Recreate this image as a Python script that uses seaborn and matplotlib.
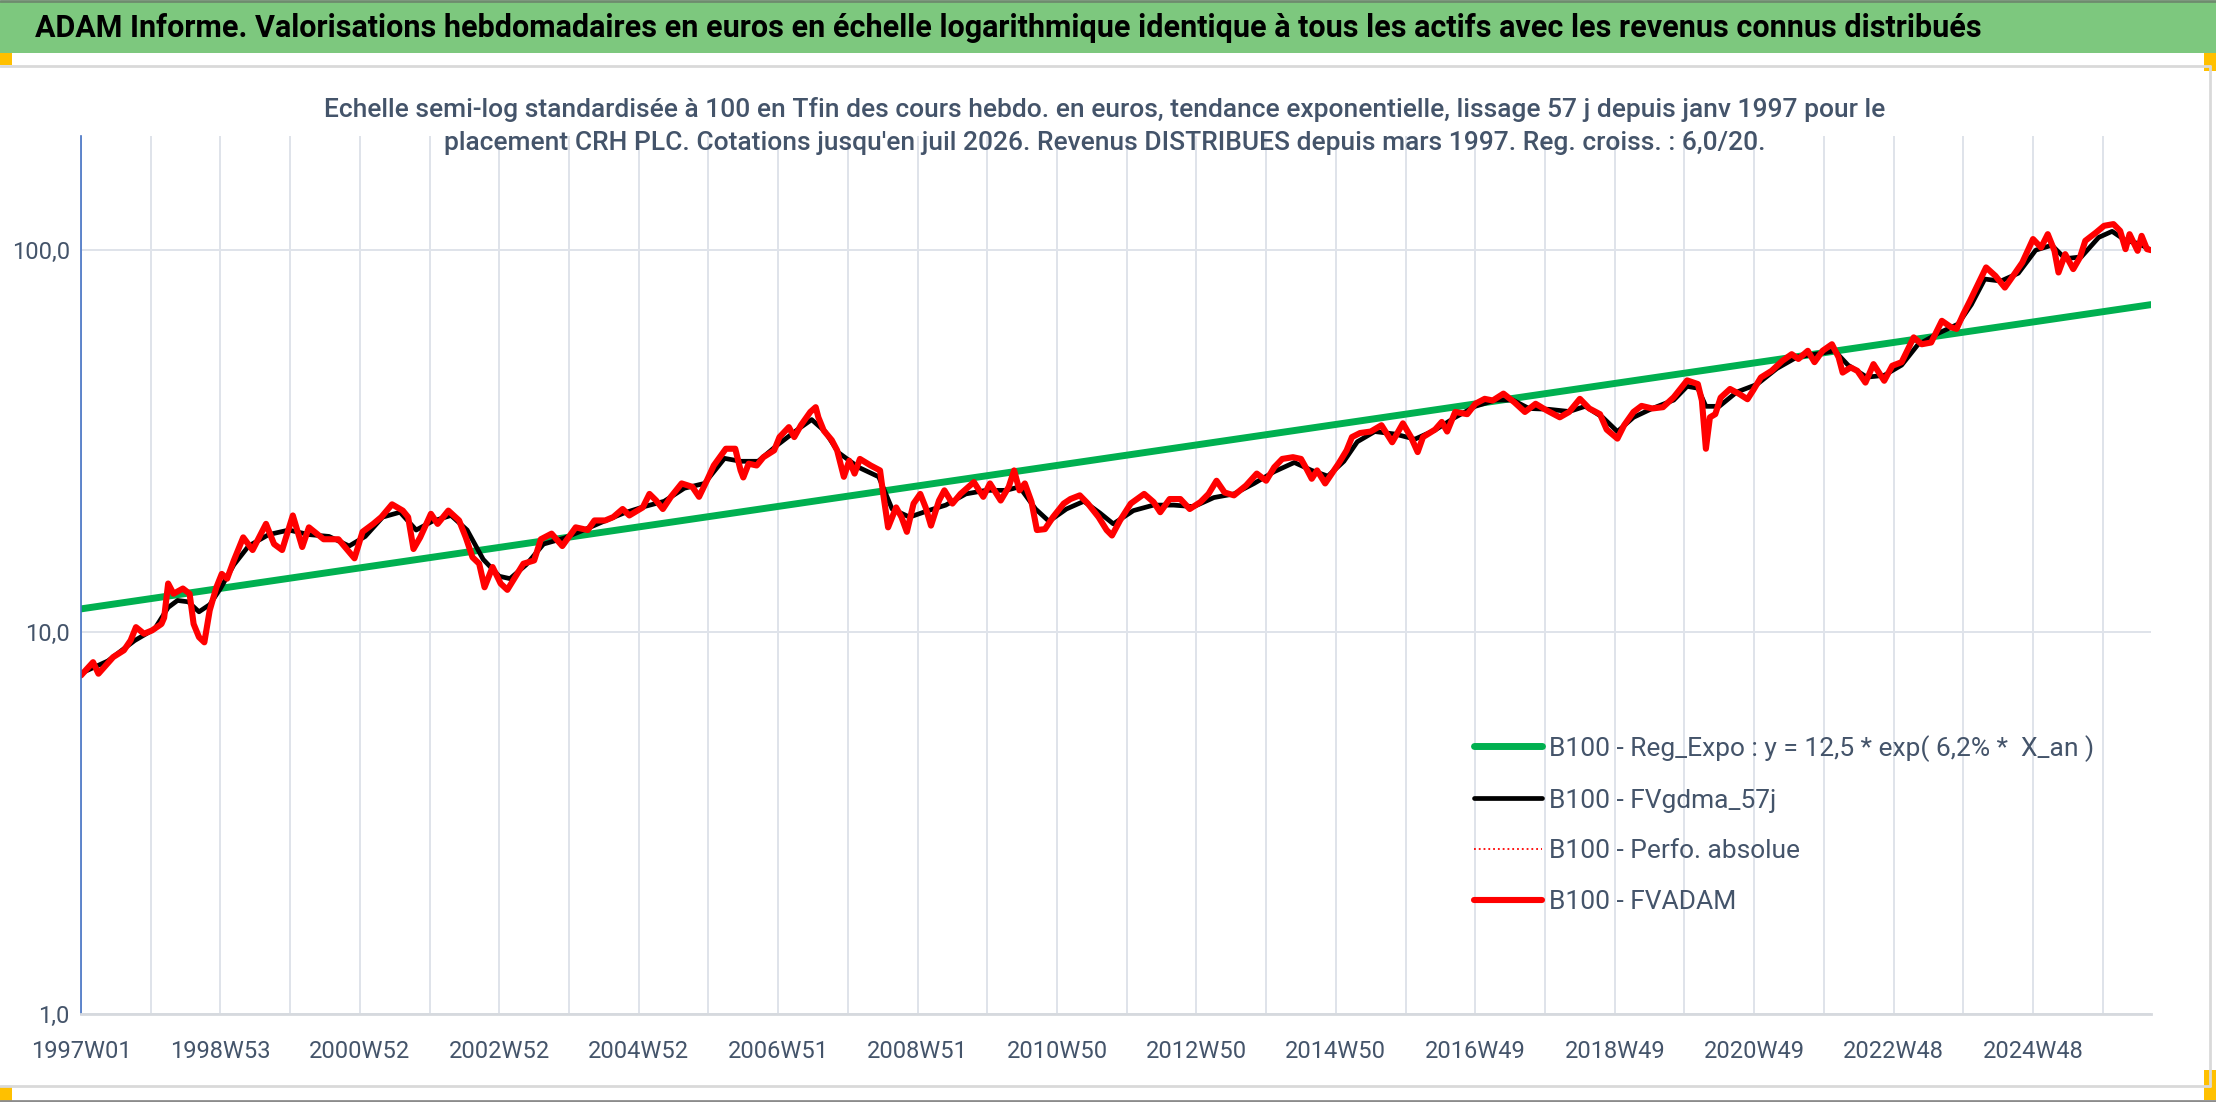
import pandas as pd
import seaborn as sns
import matplotlib.pyplot as plt
from matplotlib.lines import Line2D
from matplotlib.patches import Rectangle
from matplotlib.ticker import FixedLocator, NullLocator, FuncFormatter

# FVADAM weekly values (base 100 at end): week index / value
weeks_adam = [0, 9, 13, 24, 32, 37, 41, 47, 53, 60, 62, 65, 69, 76, 81, 84, 88, 92, 96, 101,
              105, 109, 114, 121, 128, 138, 144, 150, 158, 165, 170, 181, 192, 200, 204, 210, 218, 224, 232, 240,
              244, 248, 253, 261, 266, 274, 282, 287, 292, 297, 301, 307, 313, 318, 322, 330, 338, 343, 351, 359,
              369, 378, 383, 391, 397, 404, 409, 419, 424, 429, 434, 440, 448, 456, 461, 467, 472, 481, 488, 492,
              494, 498, 504, 509, 517, 521, 528, 532, 537, 544, 548, 550, 554, 560, 564, 569, 573, 577, 581, 589,
              596, 598, 602, 608, 612, 616, 621, 626, 630, 634, 640, 644, 650, 656, 666, 673, 678, 686, 692, 696,
              700, 704, 709, 713, 719, 725, 733, 738, 745, 751, 759, 765, 769, 775, 783, 793, 800, 805, 812, 820,
              827, 835, 841, 847, 853, 860, 869, 877, 884, 890, 896, 904, 910, 914, 918, 922, 928, 933, 938, 944,
              948, 954, 962, 970, 978, 986, 992, 997, 1001, 1010, 1015, 1019, 1025, 1034, 1040, 1047, 1053, 1061, 1069, 1077,
              1085, 1093, 1103, 1110, 1118, 1125, 1133, 1138, 1146, 1151, 1158, 1164, 1172, 1180, 1188, 1198, 1206, 1209, 1212, 1215,
              1219, 1223, 1230, 1237, 1243, 1247, 1253, 1261, 1269, 1276, 1281, 1288, 1293, 1299, 1306, 1311, 1314, 1320, 1325, 1331,
              1337, 1345, 1351, 1358, 1367, 1373, 1380, 1388, 1395, 1399, 1404, 1409, 1415, 1421, 1428, 1435, 1442, 1448, 1456, 1462,
              1467, 1472, 1475, 1480, 1486, 1491, 1495, 1503, 1509, 1516, 1521, 1525, 1528, 1534, 1537, 1541, 1544]
fvadam = [7.70, 8.34, 7.78, 8.60, 8.96, 9.51, 10.3, 9.9, 10.1, 10.5, 10.9, 13.4, 12.6, 13.0, 12.6, 10.5, 9.7, 9.4, 11.4, 13.1,
          14.2, 13.8, 15.4, 17.7, 16.4, 19.2, 17.0, 16.4, 20.2, 16.7, 18.8, 17.5, 17.5, 16.2, 15.6, 18.3, 19.2, 20.0, 21.6, 20.8,
          20.0, 16.5, 17.7, 20.4, 19.2, 20.8, 19.6, 17.7, 15.7, 15.1, 13.1, 14.8, 13.4, 12.9, 13.6, 15.1, 15.4, 17.5, 18.1, 16.8,
          18.8, 18.5, 19.6, 19.6, 20.0, 21.0, 20.2, 21.2, 23.0, 22.1, 21.0, 22.6, 24.5, 24.0, 22.6, 25.0, 27.3, 30.2, 30.2, 26.5,
          25.4, 27.6, 27.3, 28.7, 29.9, 32.4, 34.4, 32.4, 34.8, 37.7, 38.8, 36.5, 33.7, 31.8, 29.9, 25.5, 28.1, 26.0, 28.4, 27.3,
          26.5, 23.5, 18.8, 21.2, 20.0, 18.3, 21.7, 23.0, 21.2, 19.0, 22.1, 23.5, 21.7, 23.0, 24.7, 22.6, 24.5, 22.1, 24.0, 26.5,
          23.5, 24.5, 21.9, 18.5, 18.6, 20.0, 21.7, 22.3, 22.8, 21.7, 20.0, 18.5, 17.9, 19.6, 21.7, 23.0, 21.9, 20.6, 22.3, 22.3,
          21.0, 21.9, 23.0, 24.9, 23.2, 22.8, 24.2, 26.0, 24.9, 27.0, 28.4, 28.7, 28.4, 26.8, 25.2, 26.5, 24.5, 26.0, 27.6, 29.9,
          32.4, 33.2, 33.5, 34.8, 31.4, 35.2, 32.4, 29.6, 32.4, 33.9, 35.5, 33.5, 37.7, 37.2, 39.6, 40.8, 40.4, 42.1, 40.0, 37.7,
          39.6, 38.1, 36.5, 37.7, 40.8, 38.5, 37.2, 33.9, 32.1, 34.8, 37.7, 39.1, 38.5, 38.8, 41.2, 45.6, 44.6, 40.4, 30.2, 36.5,
          37.2, 41.1, 43.3, 42.0, 40.7, 42.8, 46.4, 48.3, 51.3, 53.4, 51.9, 54.5, 50.9, 54.5, 56.7, 52.4, 47.8, 49.3, 48.3, 45.0,
          50.3, 45.5, 49.8, 50.9, 59.1, 56.7, 57.3, 65.3, 62.8, 62.2, 68.0, 73.7, 81.5, 90.1, 85.6, 79.8, 86.5, 92.8, 106.9, 101.6,
          110.1, 99.6, 87.4, 97.6, 89.2, 95.7, 105.8, 111.2, 115.8, 117.0, 112.3, 100.6, 110.1, 99.6, 109.0, 100.6, 100.0]

# FVgdma_57j (smoothed)
weeks_smooth = [0, 20, 40, 55, 65, 72, 80, 88, 96, 104, 114, 125, 140, 155, 170, 185, 200, 212, 225, 238,
                250, 262, 276, 288, 300, 312, 320, 332, 345, 360, 375, 390, 405, 420, 435, 450, 465, 480, 492, 505,
                520, 535, 545, 555, 565, 580, 595, 605, 618, 632, 645, 660, 675, 690, 700, 712, 722, 735, 748, 760,
                770, 785, 800, 815, 830, 845, 860, 875, 890, 905, 918, 930, 942, 952, 965, 980, 995, 1010, 1025, 1040,
                1055, 1068, 1080, 1095, 1110, 1122, 1135, 1146, 1158, 1172, 1188, 1198, 1206, 1212, 1222, 1235, 1250, 1265, 1280, 1295,
                1308, 1318, 1332, 1345, 1358, 1370, 1385, 1400, 1410, 1420, 1432, 1445, 1458, 1470, 1480, 1492, 1505, 1515, 1525, 1535, 1544]
fvgdma_57j = [7.8, 8.4, 9.5, 10.2, 11.6, 12.1, 12.0, 11.3, 11.8, 13.0, 15.0, 16.8, 18.0, 18.5, 18.0, 17.8, 16.8, 17.8, 20.0, 20.6,
              18.5, 19.5, 20.2, 18.5, 15.5, 14.0, 13.8, 15.0, 17.0, 17.6, 18.5, 19.5, 20.5, 21.3, 22.0, 23.8, 24.5, 28.5, 28.0, 28.0,
              31.0, 34.0, 36.0, 33.5, 29.5, 27.0, 25.5, 21.0, 20.0, 20.8, 21.5, 23.0, 23.5, 23.5, 24.0, 21.0, 19.5, 21.0, 22.0, 20.5,
              19.2, 20.8, 21.5, 21.5, 21.3, 22.5, 23.0, 24.5, 26.3, 27.8, 26.5, 25.6, 28.0, 31.5, 33.5, 33.0, 32.0, 33.8, 36.5, 39.0,
              40.5, 40.5, 38.5, 38.3, 37.8, 39.0, 36.5, 33.5, 36.5, 38.5, 40.5, 44.0, 43.5, 39.0, 39.0, 42.5, 44.5, 49.0, 52.5, 53.5,
              54.5, 50.0, 46.5, 47.0, 50.0, 56.5, 60.5, 64.0, 72.0, 84.0, 83.0, 87.0, 100.0, 103.0, 95.0, 96.0, 108.0, 112.0, 106.0, 104.0, 100.0]

# Reg_Expo trend: values at first and last week (straight on a log axis)
reg_weeks = [0, 1544]
reg_expo = [11.5, 72.0]

tick_weeks = [0, 104, 208, 312, 416, 520, 624, 728, 832, 936, 1040, 1144, 1248, 1352, 1456]
tick_labels = ['1997W01', '1998W53', '2000W52', '2002W52', '2004W52', '2006W51', '2008W51', '2010W50',
               '2012W50', '2014W50', '2016W49', '2018W49', '2020W49', '2022W48', '2024W48']
grid_weeks = [52 * i for i in range(30)]

W, H = 2216, 1102
TXT = '#44546A'

sns.set_style('white')
plt.rcParams['font.family'] = ['Roboto', 'DejaVu Sans']


def fx(x):
    return x / W


def fy(y):
    return 1 - y / H


fig = plt.figure(figsize=(W / 100, H / 100), dpi=100)
ax = fig.add_axes([fx(81), fy(1014), fx(2151) - fx(81), fy(136) - fy(1014)])

df_adam = pd.DataFrame({'semaine': weeks_adam, 'valeur': fvadam})
df_smooth = pd.DataFrame({'semaine': weeks_smooth, 'valeur': fvgdma_57j})
df_reg = pd.DataFrame({'semaine': reg_weeks, 'valeur': reg_expo})

sns.lineplot(data=df_reg, x='semaine', y='valeur', color='#00B050', lw=5,
             label='B100 - Reg_Expo : y = 12,5 * exp( 6,2% *  X_an )', ax=ax, sort=False)
sns.lineplot(data=df_smooth, x='semaine', y='valeur', color='black', lw=3.4,
             label='B100 - FVgdma_57j', ax=ax, sort=False)
sns.lineplot(data=df_adam, x='semaine', y='valeur', color='red', lw=1.3, linestyle=':',
             label='B100 - Perfo. absolue', ax=ax, sort=False)
sns.lineplot(data=df_adam, x='semaine', y='valeur', color='red', lw=4.4,
             label='B100 - FVADAM', ax=ax, sort=False)

ax.set_yscale('log')
ax.set_ylim(1, 199)
ax.set_xlim(0, 1544)
ax.yaxis.set_major_locator(FixedLocator([1, 10, 100]))
ax.yaxis.set_minor_locator(NullLocator())
ax.yaxis.set_major_formatter(FuncFormatter(lambda v, p: f'{v:.1f}'.replace('.', ',')))
ax.set_xticks(grid_weeks)
ax.set_xticklabels([tick_labels[tick_weeks.index(w)] if w in tick_weeks else '' for w in grid_weeks])
ax.set_xlabel('')
ax.set_ylabel('')
ax.grid(True, color='#DFE3EA', lw=1.4)
ax.set_axisbelow(True)
ax.tick_params(axis='x', length=9, width=1.4, color='#DFE3EA', pad=10, labelsize=17, labelcolor=TXT)
ax.tick_params(axis='y', length=0, pad=8, labelsize=17, labelcolor=TXT)
for side in ['top', 'right']:
    ax.spines[side].set_visible(False)
ax.spines['left'].set_color('#4472C4')
ax.spines['left'].set_linewidth(1.2)
ax.spines['bottom'].set_color('#D6D9DE')
ax.spines['bottom'].set_linewidth(2)

ax.legend(loc='upper left', bbox_to_anchor=(fx(1450), fy(711)), bbox_transform=fig.transFigure,
          frameon=False, fontsize=19, handlelength=2.6, handletextpad=0.25, labelspacing=1.02,
          labelcolor=TXT)

# green title band and chart frame
fig.patches.append(Rectangle((0, fy(53)), 1, fy(2) - fy(53), transform=fig.transFigure,
                             facecolor='#7DC87E', edgecolor='none', zorder=0))
fig.add_artist(Line2D([0, 1], [fy(1), fy(1)], color='#6E8B6E', lw=2))
fig.add_artist(Line2D([0, fx(2210)], [fy(66), fy(66)], color='#D9D9D9', lw=2))
fig.add_artist(Line2D([fx(2210), fx(2210)], [fy(66), fy(1086)], color='#D9D9D9', lw=2))
fig.add_artist(Line2D([0, fx(2210)], [fy(1086), fy(1086)], color='#D9D9D9', lw=2))
fig.add_artist(Line2D([0, 1], [fy(1101), fy(1101)], color='#8C8C8C', lw=2))
for x0, y0, w, h in [(0, 53, 12, 12), (2204, 53, 12, 18), (0, 1087, 12, 14), (2204, 1070, 12, 30)]:
    fig.patches.append(Rectangle((fx(x0), fy(y0 + h)), fx(w), h / H, transform=fig.transFigure,
                                 facecolor='#FFC000', edgecolor='none'))

fig.text(fx(35), fy(28), 'ADAM Informe. Valorisations hebdomadaires en euros en échelle logarithmique '
         'identique à tous les actifs avec les revenus connus distribués',
         ha='left', va='center', fontsize=22, fontweight='bold', color='black')
fig.text(fx(1105), fy(110), 'Echelle semi-log standardisée à 100 en Tfin des cours hebdo. en euros, '
         'tendance exponentielle, lissage 57 j depuis janv 1997 pour le',
         ha='center', va='center', fontsize=19, fontweight='medium', color=TXT)
fig.text(fx(1105), fy(143), "placement CRH PLC. Cotations jusqu'en juil 2026. Revenus DISTRIBUES "
         "depuis mars 1997. Reg. croiss. : 6,0/20.",
         ha='center', va='center', fontsize=19, fontweight='medium', color=TXT)

fig.savefig('out.png', dpi=100)
